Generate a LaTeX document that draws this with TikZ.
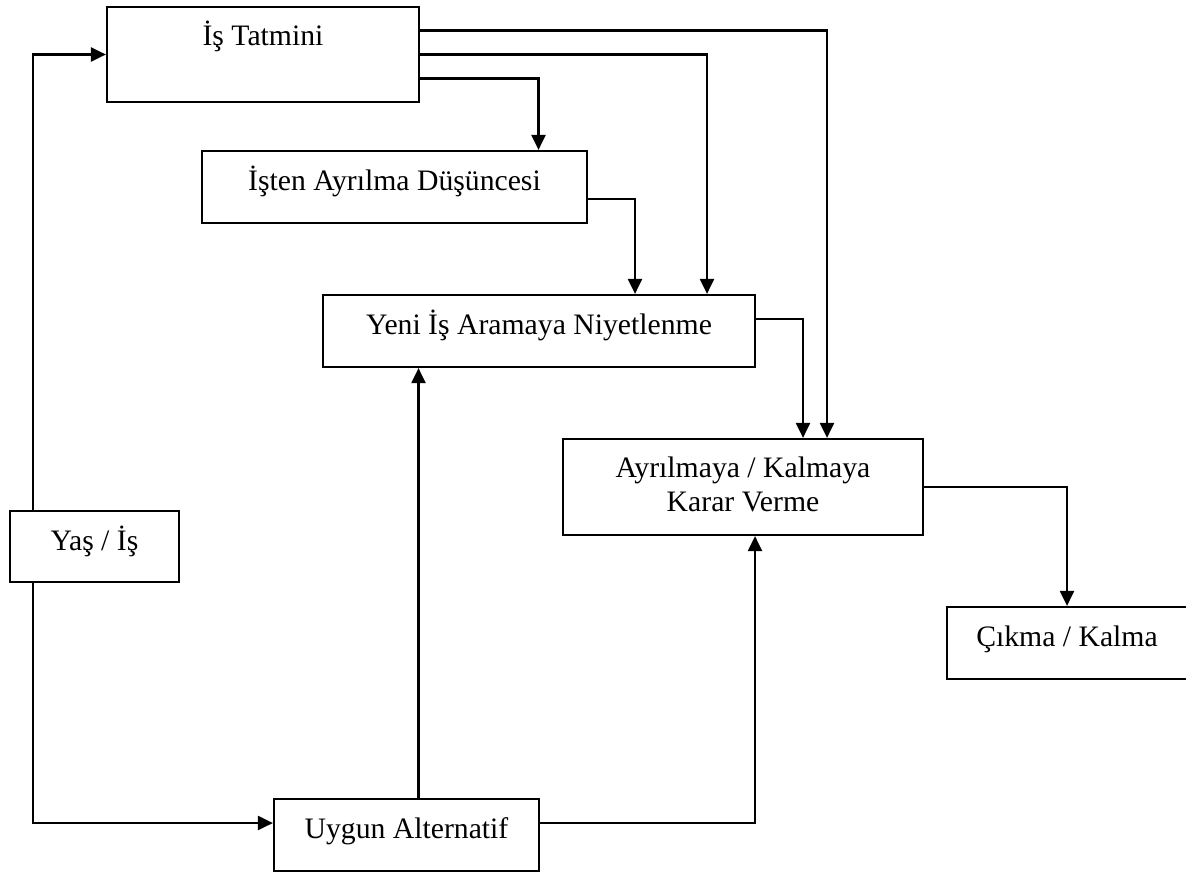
\documentclass[tikz,border=0pt]{standalone}
\usepackage{fontspec}
\setmainfont{Liberation Serif}
\usetikzlibrary{arrows.meta}

\begin{document}
\begin{tikzpicture}[x=0.5pt,y=-0.5pt]
                      \tikzstyle{every node}+=[inner sep=0pt]
                      \tikzstyle{kutu}=[draw, line width=1.1pt, text height=19.5pt, text depth=16.5pt, align=center, font=\fontsize{14.85}{16.8}\selectfont]
                      \tikzstyle{ok}=[line width=1.1pt, -{Triangle[length=7.5pt,width=7pt]}]
                      \useasboundingbox (0,0) rectangle (1186,872);
                      % kutular
                      \node [kutu, minimum width=156pt, text depth=28pt] (tatmin) at (263,54.5) {İş Tatmini};
                      \node [kutu, minimum width=192.5pt] (dusunce) at (394.5,187) {İşten Ayrılma Düşüncesi};
                      \node [kutu, minimum width=216pt] (niyet) at (539,331) {Yeni İş Aramaya Niyetlenme};
                      \node [kutu, minimum width=180pt, text height=36pt, text depth=12pt] (karar) at (743,487) {Ayrılmaya / Kalmaya\\Karar Verme};
                      \node [kutu, minimum width=84.5pt, text depth=16pt] (yas) at (94.5,546.5) {Yaş / İş};
                      \node [kutu, minimum width=120pt] (cikma) at (1067,643) {Çıkma / Kalma};
                      \node [kutu, minimum width=132.5pt] (uygun) at (406.5,835) {Uygun Alternatif};
                      % oklar
                      \draw [ok] ([xshift=12pt]yas.north west) |- (tatmin.west);
                      \draw [ok] ([xshift=12pt]yas.south west) |- ([yshift=6pt]uygun.west);
                      \draw [ok] ([yshift=-12pt]tatmin.east) -| ([xshift=72pt]dusunce.north);
                      \draw [ok] (tatmin.east) -| ([xshift=84pt]niyet.north);
                      \draw [ok] ([yshift=12pt]tatmin.east) -| ([xshift=42pt]karar.north);
                      \draw [ok] ([yshift=-6pt]dusunce.east) -| ([xshift=48pt]niyet.north);
                      \draw [ok] ([yshift=6pt]niyet.east) -| ([xshift=30pt]karar.north);
                      \draw [ok] ([xshift=6pt]uygun.north) -- ([xshift=6pt]uygun.north |- niyet.south);
                      \draw [ok] ([yshift=6pt]uygun.east) -| ([xshift=6pt]karar.south);
                      \draw [ok] (karar.east) -| (cikma.north);
                  \end{tikzpicture}
\end{document}
